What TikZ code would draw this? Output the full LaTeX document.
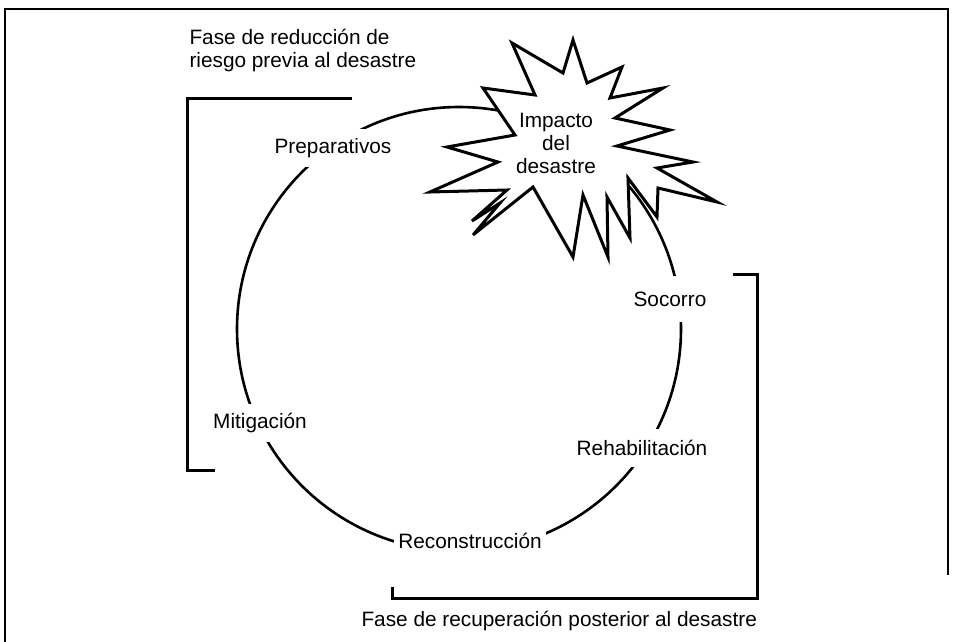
\documentclass[tikz,border=0pt]{standalone}
\usepackage{fontspec}
\setmainfont{Liberation Sans}
\begin{document}
\begin{tikzpicture}[x=1pt,y=-1pt,every node/.style={font=\fontsize{20.8}{23}\selectfont},
  fase/.style={fill=white,inner xsep=4pt,minimum height=38pt}]
\useasboundingbox (0,0) rectangle (956,642);
% frame
\draw [line width=2pt] (5,642) -- (5,9) -- (948,9) -- (948,575);
% cycle
\draw [line width=2.6pt] (459,329) circle [radius=222pt];
\node [fase] (prep) at (333,148) {Preparativos};
\node [fase] (mitig) at (260,423) {Mitigación};
\node [fase] (recons) at (470,541) {Reconstrucción};
\node [fase] (rehab) at (642,448) {Rehabilitación};
\node [fase,minimum height=46pt] (socorro) at (670,299) {Socorro};
% impact
\draw [line width=3pt, fill=white, line join=miter] plot coordinates {
 (573,40) (587,83) (622,67) (610,98) (663,88) (615,118) (670,130) (617,146)
 (693,162) (657,168) (717,202) (658,188) (657,217) (628,178) (630,238) (607,197)
 (608,257) (583,195) (573,257) (533,187) (473,235) (500,203) (472,221) (507,190)
 (430,192) (498,162) (447,147) (515,135) (483,88) (535,95) (512,43) (563,73)} -- cycle;
\node [align=center] (impacto) at (556,143) {Impacto\\del\\desastre};
% phases
\coordinate (a1) at (352,98);
\coordinate (a2) at (187,98);
\coordinate (a3) at (187,470);
\coordinate (a4) at (215,470);
\draw [line width=3pt] (a1) -- (a2) -- (a3) -- (a4);
\node [anchor=base west,align=left] (antes) at (186,67) {Fase de reducción de\\riesgo previa al desastre};
\coordinate (b1) at (733,274);
\coordinate (b2) at (757,274);
\coordinate (b3) at (757,598);
\coordinate (b4) at (392,598);
\coordinate (b5) at (392,587);
\draw [line width=3pt] (b1) -- (b2) -- (b3) -- (b4) -- (b5);
\node [anchor=base west] (despues) at (358,626) {Fase de recuperación posterior al desastre};
\end{tikzpicture}
\end{document}
